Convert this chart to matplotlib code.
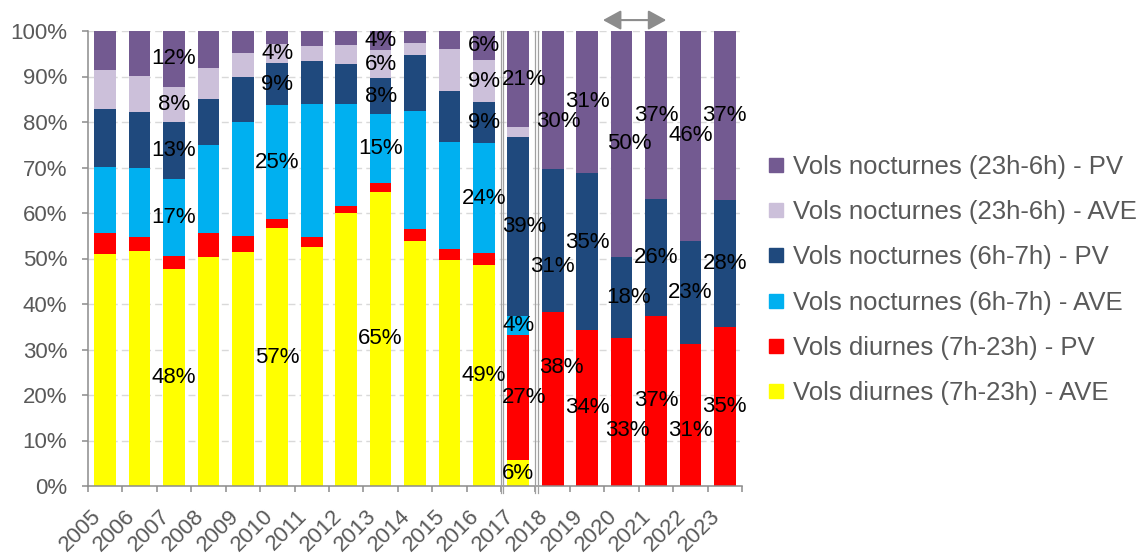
import numpy as np
import matplotlib
matplotlib.use("Agg")
import matplotlib.pyplot as plt
from matplotlib.lines import Line2D
from matplotlib.patches import FancyArrowPatch

plt.rcParams["font.family"] = ["Liberation Sans", "DejaVu Sans"]

years = [str(y) for y in range(2005, 2024)]

# shares in %, one list per series (bottom to top of the stack)
diurnes_ave = [51.0, 51.7, 47.6, 50.4, 51.4, 56.7, 52.6, 60.1, 64.7, 53.8, 49.7, 48.6, 5.7,
               0, 0, 0, 0, 0, 0]
diurnes_pv = [4.7, 3.0, 3.0, 5.1, 3.5, 2.0, 2.2, 1.5, 1.8, 2.6, 2.4, 2.5, 27.4,
              38.3, 34.3, 32.6, 37.4, 31.2, 34.9]
noct67_ave = [14.5, 15.2, 16.8, 19.4, 25.2, 25.0, 29.1, 22.3, 15.3, 26.1, 23.6, 24.2, 4.3,
              0, 0, 0, 0, 0, 0]
noct67_pv = [12.6, 12.4, 12.6, 10.2, 9.7, 9.3, 9.6, 8.8, 7.8, 12.3, 11.2, 9.0, 39.2,
             31.3, 34.6, 17.8, 25.6, 22.7, 28.0]
noct236_ave = [8.6, 7.7, 7.8, 6.8, 5.4, 4.1, 3.2, 4.2, 6.2, 2.6, 9.1, 9.4, 2.2,
               0, 0, 0, 0, 0, 0]
noct236_pv = [8.6, 10.4, 12.2, 8.1, 4.8, 2.9, 3.3, 3.1, 4.2, 2.6, 4.0, 6.3, 21.2,
              30.4, 31.1, 49.6, 37.0, 46.1, 37.1]

series = [diurnes_ave, diurnes_pv, noct67_ave, noct67_pv, noct236_ave, noct236_pv]
names = [
    "Vols diurnes (7h-23h) - AVE",
    "Vols diurnes (7h-23h) - PV",
    "Vols nocturnes (6h-7h) - AVE",
    "Vols nocturnes (6h-7h) - PV",
    "Vols nocturnes (23h-6h) - AVE",
    "Vols nocturnes (23h-6h) - PV",
]
colors = ["#FFFF00", "#FF0000", "#00B0F0", "#1F497D", "#CCC0DA", "#735A91"]

labelled_years = ["2007", "2010", "2013", "2016", "2017", "2018", "2019",
                  "2020", "2021", "2022", "2023"]
# label nudges: (year, series index) -> (dx in category units, dy in %)
nudges = {
    ("2017", 5): (0.17, 0), ("2017", 3): (0.17, 0), ("2017", 1): (0.17, 0),
    ("2018", 5): (0.17, -4.7), ("2018", 3): (0.0, -5.7), ("2018", 1): (0.26, 7.0),
    ("2019", 3): (0, 2.0),
    ("2020", 5): (0.23, 0), ("2020", 3): (0.2, 0), ("2020", 1): (0.17, -4.0),
    ("2022", 1): (0, -3.3),
}

fig = plt.figure(figsize=(11.46, 5.53), dpi=100)
ax = fig.add_axes([88 / 1146, 1 - 486 / 553, (742 - 88) / 1146, (486 - 31) / 553])

x = np.arange(len(years))
bottom = np.zeros(len(years))
for vals, name, c in zip(series, names, colors):
    vals = np.array(vals)
    ax.bar(x, vals, width=0.63, bottom=bottom, color=c, label=name, zorder=2)
    bottom = bottom + vals

# data labels
bottom = np.zeros(len(years))
for s, vals in enumerate(series):
    for i, yr in enumerate(years):
        v = vals[i]
        if yr in labelled_years and v >= 3.5:
            dx, dy = nudges.get((yr, s), (0, 0))
            ax.text(i + dx, bottom[i] + v / 2 + dy, f"{v:.0f}%", ha="center",
                    va="center", fontsize=16, color="black", zorder=4)
    bottom = bottom + np.array(vals)

ax.set_xlim(-0.5, len(years) - 0.5)
ax.set_ylim(0, 100)
ax.set_yticks(np.arange(0, 101, 10))
ax.set_yticklabels([f"{v}%" for v in range(0, 101, 10)])
ax.set_xticks(x)
ax.set_xticklabels(years, rotation=45, ha="right")
ax.set_xticks(np.arange(-0.5, len(years)), minor=True)
ax.tick_params(axis="x", which="major", length=0, pad=14, labelsize=16, labelcolor="#595959")
ax.tick_params(axis="x", which="minor", length=4.5, width=1.1, color="#8C8C8C", direction="out")
ax.tick_params(axis="y", length=4.5, width=1.1, color="#8C8C8C", labelsize=16,
               labelcolor="#595959", pad=10.5)
for side in ["top", "right"]:
    ax.spines[side].set_visible(False)
for side in ["left", "bottom"]:
    ax.spines[side].set_color("#8C8C8C")
    ax.spines[side].set_linewidth(1.1)
ax.yaxis.grid(True, color="#D9D9D9", linestyle=(0, (5, 3)), linewidth=1.0, zorder=0)
ax.set_axisbelow(True)

# double separator lines around 2017
for b in [11.5, 12.5]:
    for off in [0.0, 0.07]:
        ax.plot([b + off, b + off], [-1.6, 100], color="#A0A0A0", lw=0.9,
                clip_on=False, zorder=3)

# arrow over 2020-2021
arr = FancyArrowPatch((14.46, 102.4), (16.3, 102.4),
                      arrowstyle="<|-|>,head_length=11,head_width=6",
                      mutation_scale=1, color="#8C8C8C", lw=1.5,
                      shrinkA=0, shrinkB=0, clip_on=False, zorder=5)
ax.add_patch(arr)

handles = [Line2D([], [], marker="s", ls="none", markersize=10, mfc=c, mec=c)
           for c in colors][::-1]
fig.legend(handles, names[::-1], loc="center left",
           bbox_to_anchor=(767 / 1146, 1 - 280 / 553), frameon=False,
           fontsize=18.5, labelcolor="#595959", handlelength=0.7, handletextpad=0.3,
           labelspacing=0.82, borderpad=0, borderaxespad=0)

fig.savefig("out.png", dpi=100)
